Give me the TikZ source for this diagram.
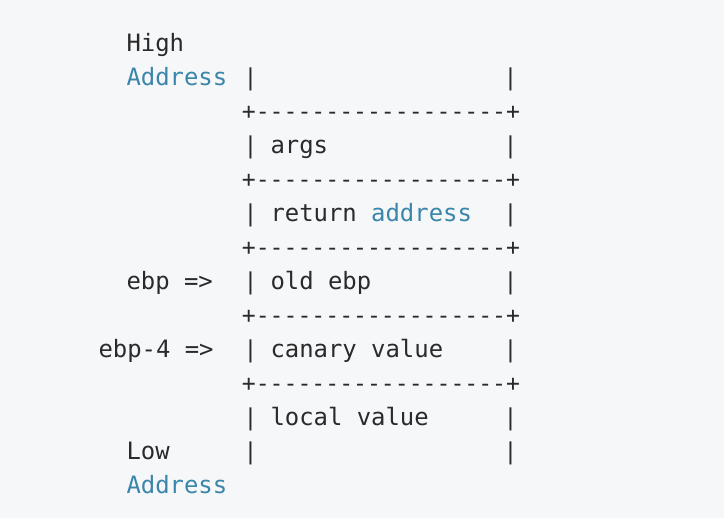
\documentclass[tikz,border=0pt]{standalone}
\usepackage{fontspec}
\setmonofont{DejaVu Sans Mono}
\definecolor{bgc}{HTML}{F6F7F9}
\definecolor{txc}{HTML}{2A2A2A}
\definecolor{kwc}{HTML}{3A86AA}
\tikzset{
  code/.style={anchor=base west, inner sep=0pt, outer sep=0pt, text=txc,
    font=\ttfamily\fontsize{23.1pt}{34pt}\selectfont},
  cell/.style={code, font=\ttfamily\fontsize{23.9pt}{34pt}\selectfont},
  bar/.style={code, anchor=base},
  kw/.style={cell, text=kwc}
}
\begin{document}
\begin{tikzpicture}
\fill[bgc] (0pt,0pt) rectangle (724pt,-518pt);
\useasboundingbox (0pt,0pt) rectangle (724pt,-518pt);
\begin{scope}[shift={(0pt,-52pt)}, x=1pt, y=-34pt]
  % left labels
  \node[cell] (high) at (126.5,0) {High};
  \node[kw] (addrhi) at (126.5,1) {Address};
  \node[cell] (ebp) at (126.5,7) {ebp =>};
  \node[cell] (ebp4) at (98.5,9) {ebp-4 =>};
  \node[cell] (low) at (126.5,12) {Low};
  \node[kw] (addrlo) at (126.5,13) {Address};
  % side bars
  \foreach \r in {1,3,5,7,9,11,12} {
    \node[bar] (bl\r) at (250.5,\r) {|};
    \node[bar] (br\r) at (510.5,\r) {|};
  }
  % separators
  \foreach \r in {2,4,6,8,10}
    \node[bar] (sep\r) at (381,\r) {+------------------+};
  % cell contents
  \node[cell] (args) at (270.5,3) {args};
  \node[cell] (ret) at (270.5,5) {return \textcolor{kwc}{address}};
  \node[cell] (oldebp) at (270.5,7) {old ebp};
  \node[cell] (canary) at (270.5,9) {canary value};
  \node[cell] (local) at (270.5,11) {local value};
\end{scope}
\end{tikzpicture}
\end{document}
